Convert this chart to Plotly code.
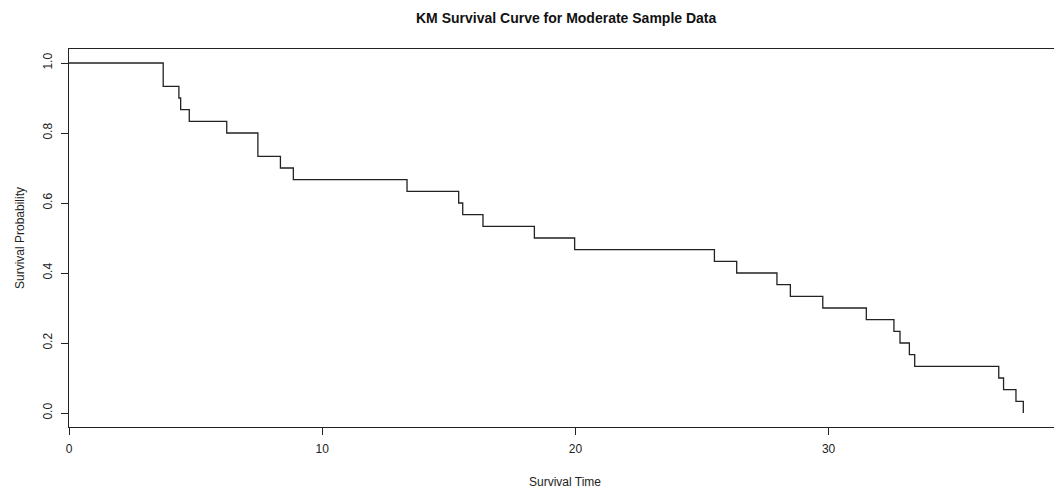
import plotly.graph_objects as go

# Kaplan-Meier step values
times = [0, 3.72, 4.34, 4.41, 4.75, 6.23, 7.46, 8.35, 8.86, 13.35, 15.39, 15.55,
         16.35, 18.38, 19.97, 25.49, 26.37, 27.96, 28.49, 29.77, 31.49, 32.58,
         32.82, 33.19, 33.40, 36.72, 36.91, 37.40, 37.69]
survival = [1.0, 0.933, 0.9, 0.867, 0.833, 0.8, 0.733, 0.7, 0.667, 0.633, 0.6,
            0.567, 0.533, 0.5, 0.467, 0.433, 0.4, 0.367, 0.333, 0.3, 0.267,
            0.233, 0.2, 0.167, 0.133, 0.1, 0.067, 0.033, 0.0]
x_ticks = [0, 10, 20, 30]
y_ticks = [0.0, 0.2, 0.4, 0.6, 0.8, 1.0]

W, H = 1054, 490
L, T, B = 69, 48.6, 63

fig = go.Figure()
fig.add_trace(go.Scatter(
    x=times, y=survival, mode="lines", line_shape="hv",
    line=dict(color="#222222", width=1.3), showlegend=False, hoverinfo="x+y"))

font = "Liberation Sans, Arial, sans-serif"
fig.update_layout(
    width=W, height=H,
    margin=dict(l=L, r=0, t=T, b=B, pad=0),
    plot_bgcolor="white", paper_bgcolor="white",
    font=dict(family=font, size=12, color="#222222"),
    xaxis=dict(range=[0, (W - L) / 25.32], tickvals=x_ticks,
               ticktext=[str(v) for v in x_ticks],
               showgrid=False, zeroline=False, showline=True, linecolor="#222222",
               linewidth=1, mirror=True, ticks="outside", ticklen=7,
               tickcolor="#222222", tickwidth=1, ticklabelstandoff=4),
    yaxis=dict(range=[-0.04, 1.04], tickvals=y_ticks,
               ticktext=["%.1f" % v for v in y_ticks], tickangle=-90,
               showgrid=False, zeroline=False, showline=True, linecolor="#222222",
               linewidth=1, mirror=False, ticks="outside", ticklen=7,
               tickcolor="#222222", tickwidth=1, ticklabelstandoff=4),
    annotations=[
        dict(text="<b>KM Survival Curve for Moderate Sample Data</b>",
             xref="paper", yref="paper", x=(566 - L) / (W - L), y=1 + (T - 18) / (H - T - B),
             xanchor="center", yanchor="middle", showarrow=False,
             font=dict(size=14, color="#111111")),
        dict(text="Survival Time", xref="paper", yref="paper",
             x=(565 - L) / (W - L), y=-(482 - (H - B)) / (H - T - B),
             xanchor="center", yanchor="middle", showarrow=False,
             font=dict(size=12, color="#222222")),
        dict(text="Survival Probability", xref="paper", yref="paper",
             x=-(L - 20) / (W - L), y=0.5, textangle=-90,
             xanchor="center", yanchor="middle", showarrow=False,
             font=dict(size=12, color="#222222")),
    ],
)

fig.write_html("out.html")
